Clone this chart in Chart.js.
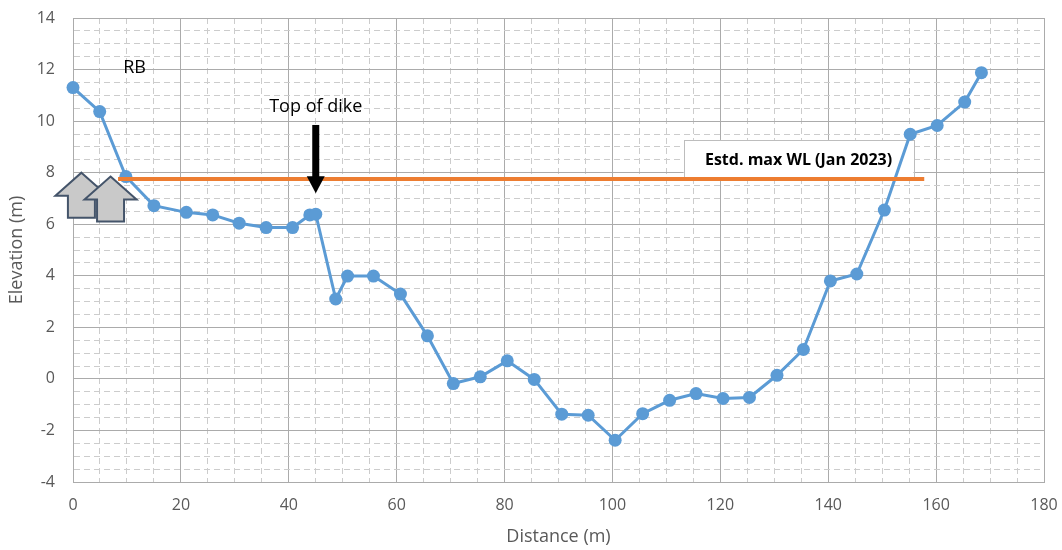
<!DOCTYPE html>
<html>
<head>
<meta charset="utf-8">
<title>Cross-section elevation profile</title>
<script src="https://cdn.jsdelivr.net/npm/chart.js@4.4.1/dist/chart.umd.min.js"></script>
<style>
  html, body { margin: 0; padding: 0; background: #ffffff; }
  #wrap { width: 1062px; height: 550px; }
</style>
</head>
<body>
<div id="wrap"><canvas id="profile" width="1062" height="550"></canvas></div>
<script>
// Surveyed cross-section: distance from right bank (m) and ground elevation (m)
const distance = [0, 4.95, 9.8, 15.0, 21.0, 25.9, 30.8, 35.8, 40.7, 43.9, 45.0, 48.7, 50.9, 55.7,
  60.7, 65.7, 70.5, 75.5, 80.5, 85.5, 90.6, 95.5, 100.5, 105.6, 110.6, 115.5, 120.5, 125.4,
  130.5, 135.4, 140.4, 145.3, 150.4, 155.2, 160.2, 165.3, 168.4];
const elevation = [11.3, 10.37, 7.85, 6.72, 6.46, 6.36, 6.04, 5.87, 5.87, 6.36, 6.39, 3.1, 3.99, 3.99,
  3.29, 1.67, -0.18, 0.08, 0.7, -0.02, -1.37, -1.41, -2.38, -1.35, -0.83, -0.57, -0.76, -0.72,
  0.14, 1.14, 3.8, 4.07, 6.55, 9.49, 9.83, 10.74, 11.88];

// Estimated maximum water level, January 2023
const wlDistance = [8.35, 157.8];
const wlElevation = [7.75, 7.75];

// Labelled axis ticks
const xTickLabels = [0, 20, 40, 60, 80, 100, 120, 140, 160, 180];
const yTickLabels = [-4, -2, 0, 2, 4, 6, 8, 10, 12, 14];

// Annotation anchors in data units
const rbLabel = { x: 11.4, y: 12.08, text: 'RB' };
const dikeLabel = { x: 45, y: 10.57, text: 'Top of dike' };
const dikeArrow = { x: 45, top: 9.85, tip: 7.2 };
const wlBox = { x1: 113.2, x2: 155.8, y1: 9.27, y2: 7.75, text: 'Estd. max WL (Jan 2023)' };
const bankArrows = [ { x: 1.56, y: 8.0 }, { x: 6.96, y: 7.85 } ];

const FONT = "'Open Sans', 'DejaVu Sans', sans-serif";
const MAJOR = '#ababab';
const MINOR = '#cccccc';

const xy = (xs, ys) => xs.map((x, i) => ({ x: x, y: ys[i] }));

// keep the plot area exactly where the layout padding puts it
function fixBox(size) {
  return s => {
    Object.assign(s, size);
    s.paddingLeft = 0; s.paddingRight = 0; s.paddingTop = 0; s.paddingBottom = 0;
  };
}

function blockArrow(ctx, tipX, tipY) {
  const headHalf = 26, shaftHalf = 13.5, headH = 23, totalH = 45;
  ctx.beginPath();
  ctx.moveTo(tipX, tipY);
  ctx.lineTo(tipX + headHalf, tipY + headH);
  ctx.lineTo(tipX + shaftHalf, tipY + headH);
  ctx.lineTo(tipX + shaftHalf, tipY + totalH);
  ctx.lineTo(tipX - shaftHalf, tipY + totalH);
  ctx.lineTo(tipX - shaftHalf, tipY + headH);
  ctx.lineTo(tipX - headHalf, tipY + headH);
  ctx.closePath();
  ctx.fillStyle = '#c9c9c9';
  ctx.fill();
  ctx.lineWidth = 2;
  ctx.strokeStyle = '#44546a';
  ctx.stroke();
}

const annotations = {
  id: 'annotations',
  beforeDatasetsDraw(chart) {
    const { ctx, scales: { x, y } } = chart;
    const left = x.getPixelForValue(wlBox.x1), right = x.getPixelForValue(wlBox.x2);
    const top = y.getPixelForValue(wlBox.y1), bottom = y.getPixelForValue(wlBox.y2);
    ctx.save();
    ctx.fillStyle = '#ffffff';
    ctx.fillRect(left, top, right - left, bottom - top);
    ctx.strokeStyle = '#bdbdbd';
    ctx.lineWidth = 1;
    ctx.strokeRect(Math.round(left) + 0.5, Math.round(top) + 0.5, Math.round(right - left), Math.round(bottom - top));
    ctx.fillStyle = '#000000';
    ctx.font = 'bold 16px ' + FONT;
    ctx.textAlign = 'center';
    ctx.textBaseline = 'middle';
    ctx.fillText(wlBox.text, (left + right) / 2, (top + bottom) / 2 + 1);
    ctx.restore();
  },
  afterDraw(chart) {
    const { ctx, scales: { x, y } } = chart;
    ctx.save();
    ctx.fillStyle = '#000000';
    ctx.textAlign = 'center';
    ctx.textBaseline = 'middle';
    ctx.font = '18px ' + FONT;
    ctx.fillText(rbLabel.text, x.getPixelForValue(rbLabel.x), y.getPixelForValue(rbLabel.y));
    ctx.fillText(dikeLabel.text, x.getPixelForValue(dikeLabel.x), y.getPixelForValue(dikeLabel.y));

    // downward arrow pointing at the dike crest
    const ax = x.getPixelForValue(dikeArrow.x);
    const aTop = y.getPixelForValue(dikeArrow.top);
    const aTip = y.getPixelForValue(dikeArrow.tip);
    const headH = 17;
    ctx.fillRect(ax - 3.5, aTop, 7, aTip - headH - aTop + 1);
    ctx.beginPath();
    ctx.moveTo(ax - 9, aTip - headH);
    ctx.lineTo(ax + 9, aTip - headH);
    ctx.lineTo(ax, aTip);
    ctx.closePath();
    ctx.fill();

    // bank marker arrows
    bankArrows.forEach(a => blockArrow(ctx, x.getPixelForValue(a.x), y.getPixelForValue(a.y)));
    ctx.restore();
  }
};

new Chart(document.getElementById('profile'), {
  type: 'line',
  data: {
    datasets: [
      {
        label: 'Estd. max WL (Jan 2023)',
        data: xy(wlDistance, wlElevation),
        borderColor: '#ed7d31',
        borderWidth: 4,
        pointRadius: 0,
        pointHoverRadius: 0,
        borderCapStyle: 'butt'
      },
      {
        label: 'Ground elevation',
        data: xy(distance, elevation),
        borderColor: '#5b9bd5',
        backgroundColor: '#5b9bd5',
        borderWidth: 3,
        pointRadius: 6.5,
        pointBorderWidth: 0,
        pointBackgroundColor: '#5b9bd5',
        tension: 0,
        clip: false
      }
    ]
  },
  options: {
    responsive: false,
    devicePixelRatio: 1,
    animation: false,
    events: [],
    layout: { padding: { left: 0, top: 18, right: 18, bottom: 0 } },
    plugins: {
      legend: { display: false },
      tooltip: { enabled: false }
    },
    scales: {
      x: {
        type: 'linear',
        min: 0,
        max: 180,
        afterFit: fixBox({ height: 68 }),
        ticks: {
          stepSize: 5,
          autoSkip: false,
          maxRotation: 0,
          padding: 14,
          color: '#595959',
          font: { family: FONT, size: 16 },
          callback: v => (xTickLabels.includes(v) ? String(v) : '')
        },
        grid: {
          drawTicks: false,
          lineWidth: 1,
          color: c => (c.tick && c.tick.value % 20 !== 0 ? MINOR : MAJOR)
        },
        border: {
          display: true,
          color: MAJOR,
          width: 1,
          dash: c => (c.tick && c.tick.value % 20 !== 0 ? [6, 4] : [])
        },
        title: {
          display: true,
          text: 'Distance (m)',
          color: '#595959',
          font: { family: FONT, size: 18 },
          padding: { top: 0, bottom: 2 }
        }
      },
      y: {
        type: 'linear',
        min: -4,
        max: 14,
        afterFit: fixBox({ width: 73 }),
        ticks: {
          stepSize: 0.5,
          autoSkip: false,
          padding: 18,
          color: '#595959',
          font: { family: FONT, size: 16 },
          callback: v => (yTickLabels.includes(v) ? String(v) : '')
        },
        grid: {
          drawTicks: false,
          lineWidth: 1,
          color: c => (c.tick && c.tick.value % 2 !== 0 ? MINOR : MAJOR)
        },
        border: {
          display: true,
          color: MAJOR,
          width: 1,
          dash: c => (c.tick && c.tick.value % 2 !== 0 ? [6, 4] : [])
        },
        title: {
          display: true,
          text: 'Elevation (m)',
          color: '#595959',
          font: { family: FONT, size: 18 },
          padding: { top: 6, bottom: 0 }
        }
      }
    }
  },
  plugins: [annotations]
});
</script>
</body>
</html>
